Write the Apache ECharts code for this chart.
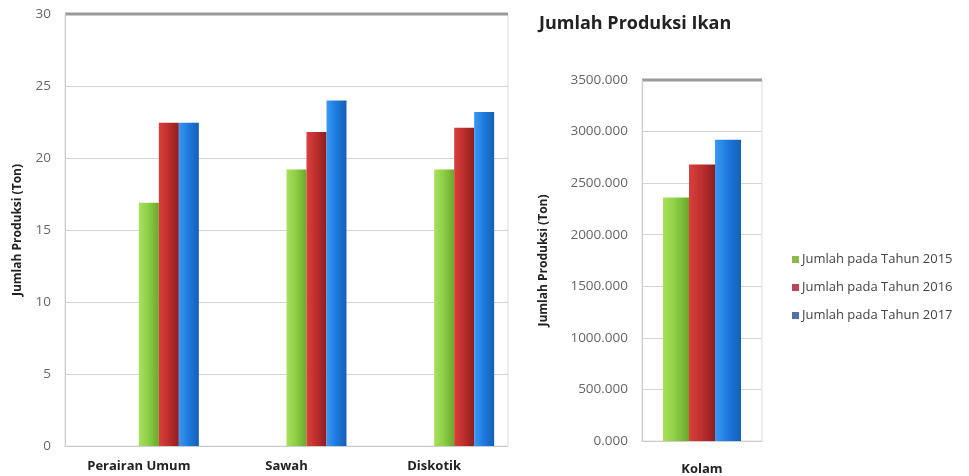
<!DOCTYPE html>
<html>
<head>
<meta charset="utf-8">
<script src="https://cdn.jsdelivr.net/npm/echarts@6/dist/echarts.min.js"></script>
<style>
    html, body { margin: 0; padding: 0; background: #fff; }
    #chart { width: 969px; height: 476px; }
</style>
</head>
<body>
<div id="chart"></div>
<script>
    // data
    var kategoriKiri = ['Perairan Umum', 'Sawah', 'Diskotik'];
    var kategoriKanan = ['Kolam'];
    var namaSeri = ['Jumlah pada Tahun 2015', 'Jumlah pada Tahun 2016', 'Jumlah pada Tahun 2017'];
    var kiri2015 = [16.9, 19.2, 19.2];
    var kiri2016 = [22.45, 21.8, 22.1];
    var kiri2017 = [22.45, 24.0, 23.2];
    var kolam2015 = [2360];
    var kolam2016 = [2680];
    var kolam2017 = [2920];

    var font = '"Open Sans", Lato, sans-serif';

    function grad(a, b, c) {
        return new echarts.graphic.LinearGradient(0, 0, 1, 0, [
            {offset: 0, color: a}, {offset: 0.45, color: b}, {offset: 1, color: c}
        ]);
    }
    var hijau = grad('#a9e05e', '#8fd046', '#6aa82a');
    var merah = grad('#d8403c', '#c0302e', '#8e1e1e');
    var biru = grad('#3b98f2', '#1e7ce0', '#1560b8');
    var warnaLegend = ['#8db84a', '#b8475a', '#4c74a6'];

    var chart = echarts.init(document.getElementById('chart'));
    var yNameStyle = {fontFamily: font, fontSize: 12, fontWeight: 'bold', color: '#222'};
    var yLabel = {fontFamily: font, fontSize: 13.5, color: '#666'};
    var xLabel = {fontFamily: font, fontSize: 13, fontWeight: 'bold', color: '#222'};

    var option = {
        animation: false,
        title: {
            text: 'Jumlah Produksi Ikan',
            left: 534, top: 10,
            textStyle: {fontFamily: font, fontSize: 18, fontWeight: 'bold', color: '#222'}
        },
        legend: {
            data: namaSeri.map(function (n, i) { return {name: n, itemStyle: {color: warnaLegend[i]}}; }),
            orient: 'vertical',
            left: 787, top: 248,
            itemGap: 15,
            itemWidth: 7, itemHeight: 7,
            icon: 'rect',
            textStyle: {fontFamily: font, fontSize: 13, color: '#444', padding: [0, 0, 0, -2]}
        },
        grid: [
            {left: 65, top: 14, width: 443, height: 432, show: true, borderColor: '#ddd', borderWidth: 1},
            {left: 95, top: 14, width: 443, height: 432},
            {left: 642, top: 80, width: 120, height: 362, show: true, borderColor: '#ddd', borderWidth: 1}
        ],
        xAxis: [
            {
                gridIndex: 0, type: 'category', data: kategoriKiri,
                axisLine: {lineStyle: {color: '#ccc'}}, axisTick: {show: false},
                axisLabel: Object.assign({margin: 14}, xLabel)
            },
            {
                gridIndex: 1, type: 'category', data: kategoriKiri, position: 'top',
                axisLine: {show: false}, axisTick: {show: false}, axisLabel: {show: false}
            },
            {
                gridIndex: 2, type: 'category', data: kategoriKanan,
                axisLine: {lineStyle: {color: '#ccc'}}, axisTick: {show: false},
                axisLabel: Object.assign({margin: 22}, xLabel)
            }
        ],
        yAxis: [
            {
                gridIndex: 0, type: 'value', min: 0, max: 30, interval: 5,
                name: 'Jumlah Produksi (Ton)', nameLocation: 'middle', nameGap: 41,
                nameTextStyle: yNameStyle,
                axisLine: {show: true, lineStyle: {color: '#ccc'}}, axisTick: {show: false},
                axisLabel: Object.assign({margin: 14}, yLabel),
                splitLine: {lineStyle: {color: '#d4d4d4'}}
            },
            {
                gridIndex: 1, type: 'value', min: 0, max: 30, interval: 5,
                axisLine: {show: false}, axisTick: {show: false}, axisLabel: {show: false}, splitLine: {show: false}
            },
            {
                gridIndex: 2, type: 'value', min: 0, max: 3500, interval: 500,
                name: 'Jumlah Produksi (Ton)', nameLocation: 'middle', nameGap: 92,
                nameTextStyle: yNameStyle,
                axisLine: {show: true, lineStyle: {color: '#ccc'}}, axisTick: {show: false},
                axisLabel: Object.assign({formatter: function (v) { return v.toFixed(3); }, margin: 14}, yLabel),
                splitLine: {lineStyle: {color: '#d4d4d4'}}
            }
        ],
        series: [
            {name: namaSeri[0], type: 'bar', xAxisIndex: 1, yAxisIndex: 1, data: kiri2015, barWidth: 20, barGap: '0%', itemStyle: {color: hijau}},
            {name: namaSeri[1], type: 'bar', xAxisIndex: 1, yAxisIndex: 1, data: kiri2016, barWidth: 20, barGap: '0%', itemStyle: {color: merah}},
            {name: namaSeri[2], type: 'bar', xAxisIndex: 1, yAxisIndex: 1, data: kiri2017, barWidth: 20, barGap: '0%', itemStyle: {color: biru}},
            {name: namaSeri[0], type: 'bar', xAxisIndex: 2, yAxisIndex: 2, data: kolam2015, barWidth: 26, barGap: '0%', itemStyle: {color: hijau}},
            {name: namaSeri[1], type: 'bar', xAxisIndex: 2, yAxisIndex: 2, data: kolam2016, barWidth: 26, barGap: '0%', itemStyle: {color: merah}},
            {name: namaSeri[2], type: 'bar', xAxisIndex: 2, yAxisIndex: 2, data: kolam2017, barWidth: 26, barGap: '0%', itemStyle: {color: biru}}
        ]
    };
    chart.setOption(option);

    // thick grey top edge of both plot frames, as in the picture
    var g0 = chart.convertToPixel({gridIndex: 0}, [0, 30]);
    var g2 = chart.convertToPixel({gridIndex: 2}, [0, 3500]);
    chart.setOption({
        graphic: [
            {type: 'line', shape: {x1: 65, y1: g0[1], x2: 508, y2: g0[1]}, style: {stroke: '#9a9a9a', lineWidth: 3}},
            {type: 'line', shape: {x1: 642, y1: g2[1], x2: 762, y2: g2[1]}, style: {stroke: '#9a9a9a', lineWidth: 3}}
        ]
    });
</script>
</body>
</html>
